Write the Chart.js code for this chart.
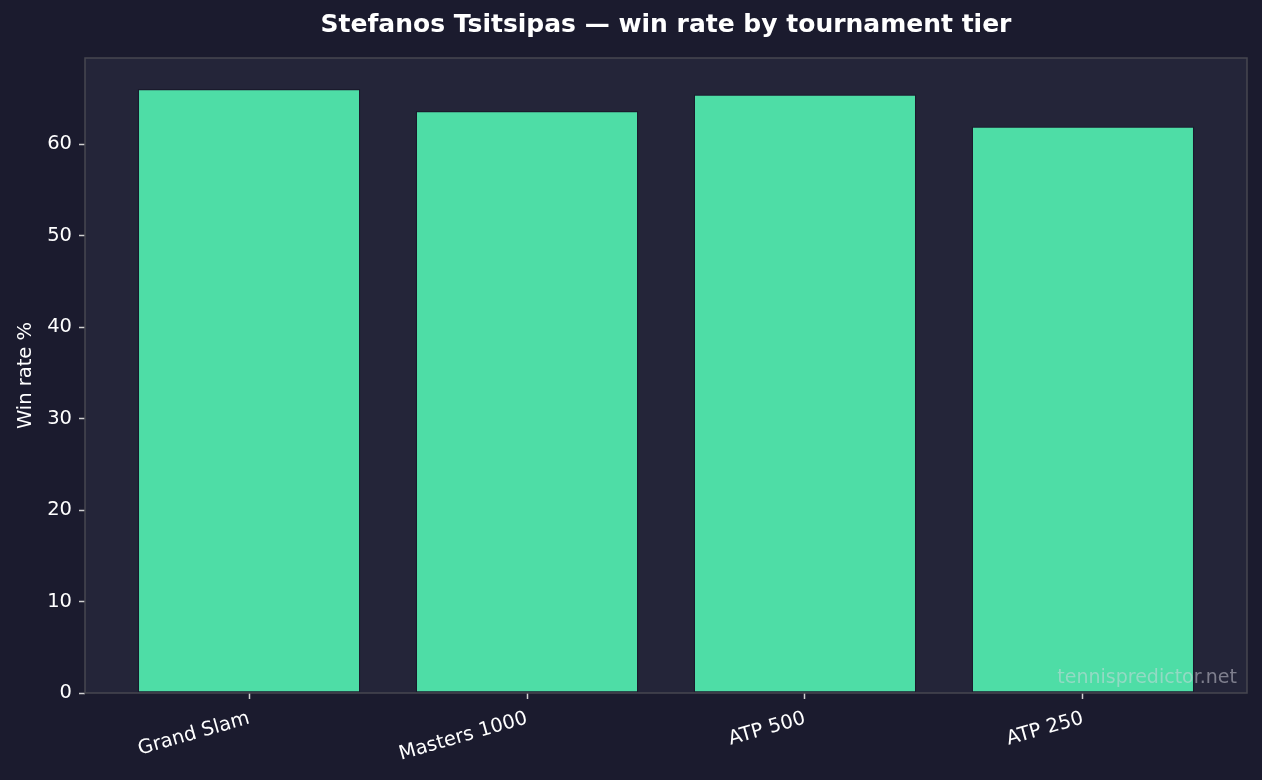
<html lang="en">
<head>
<meta charset="utf-8">
<style>
    body { margin: 0; background: #1b1b2e; }
    canvas { display: block; }
</style>
</head>
<body>
<div>
    <canvas id="myChart" width="1262" height="780"></canvas>
</div>

<script src="https://cdn.jsdelivr.net/npm/chart.js@4"></script>
<script>
    // data
    const tiers = ['Grand Slam', 'Masters 1000', 'ATP 500', 'ATP 250']
    const winRate = [66.0, 63.6, 65.4, 61.9]
    const yTicks = [0, 10, 20, 30, 40, 50, 60]

    const titleText = 'Stefanos Tsitsipas \u2014 win rate by tournament tier'
    const font = 'DejaVu Sans'

    // plot background, frame, title and watermark
    const frame = {
        id: 'frame',
        beforeDraw(chart) {
            const a = chart.chartArea, c = chart.ctx
            c.save()
            c.fillStyle = '#1b1b2e'
            c.fillRect(0, 0, chart.width, chart.height)
            c.fillStyle = '#242539'
            c.fillRect(a.left, a.top, a.right - a.left, a.bottom - a.top)
            c.restore()
        },
        afterDatasetsDraw(chart) {
            const a = chart.chartArea, c = chart.ctx
            c.save()
            c.strokeStyle = '#474750'
            c.lineWidth = 1.5
            c.strokeRect(a.left, a.top, a.right - a.left, a.bottom - a.top)
            c.fillStyle = 'rgba(215,215,225,0.5)'
            c.font = '19px "' + font + '"'
            c.textAlign = 'right'
            c.textBaseline = 'alphabetic'
            c.fillText('tennispredictor.net', a.right - 10, a.bottom - 10)
            c.fillStyle = '#ffffff'
            c.font = 'bold 25px "' + font + '"'
            c.textAlign = 'center'
            c.textBaseline = 'middle'
            c.fillText(titleText, (a.left + a.right) / 2, 25)
            c.restore()
        }
    }

    const ctx = document.getElementById('myChart')
    let chart = new Chart(ctx, {
        type: 'bar',
        data: {
            datasets: [{
                data: winRate.map((v, i) => ({x: i, y: v})),
                backgroundColor: '#4edda6',
                borderColor: '#1a1a2c',
                borderWidth: 1.2,
                borderSkipped: false,
                barPercentage: 0.8,
                categoryPercentage: 1
            }]
        },
        options: {
            responsive: false,
            animation: false,
            devicePixelRatio: 1,
            layout: { padding: { left: 0, right: 15, top: 58, bottom: 0 } },
            plugins: {
                legend: { display: false },
                tooltip: { enabled: false }
            },
            scales: {
                x: {
                    type: 'linear',
                    offset: false,
                    min: -0.59,
                    max: 3.59,
                    border: { display: false },
                    grid: { offset: false, drawOnChartArea: false, tickLength: 6, tickColor: '#d0d0d0', tickWidth: 1.5 },
                    ticks: {
                        stepSize: 1,
                        includeBounds: false,
                        autoSkip: false,
                        minRotation: 16,
                        maxRotation: 16,
                        padding: 8,
                        color: '#ffffff',
                        font: { family: font, size: 19.5 },
                        callback: v => tiers[v]
                    },
                    afterFit: s => { s.height = 87 }
                },
                y: {
                    min: 0,
                    max: 69.4,
                    border: { display: false },
                    grid: { drawOnChartArea: false, tickLength: 6, tickColor: '#d0d0d0', tickWidth: 1.5 },
                    afterBuildTicks: s => { s.ticks = yTicks.map(v => ({value: v})) },
                    ticks: {
                        padding: 7,
                        color: '#ffffff',
                        font: { family: font, size: 19.5 }
                    },
                    title: {
                        display: true,
                        text: 'Win rate %',
                        color: '#ffffff',
                        font: { family: font, size: 19.5 },
                        padding: { top: 14, bottom: 4 }
                    },
                    afterFit: s => { s.width = 85 }
                }
            }
        },
        plugins: [frame]
    })
</script>
</body>
</html>
